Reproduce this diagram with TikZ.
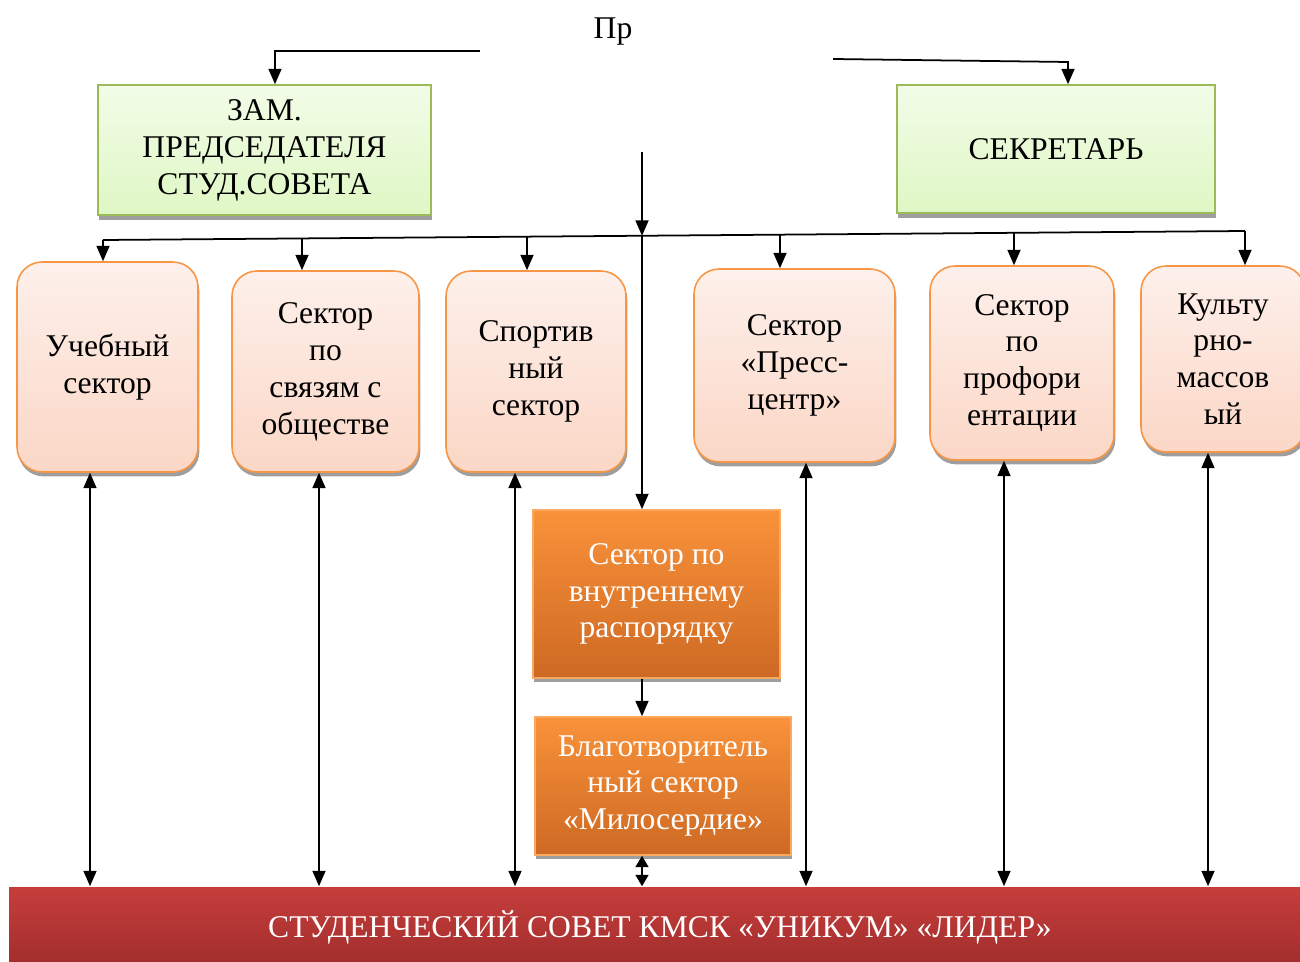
\documentclass[tikz,border=0pt]{standalone}
\usepackage{fontspec}
\setmainfont{Liberation Serif}
\usetikzlibrary{arrows.meta,calc,shadows}

\definecolor{grnTop}{HTML}{F2FCE8}
\definecolor{grnBot}{HTML}{DFF7C4}
\definecolor{grnBrd}{HTML}{9BBB59}
\definecolor{pnkTop}{HTML}{FDF0EB}
\definecolor{pnkBot}{HTML}{FBD7C6}
\definecolor{pnkBrd}{HTML}{F79646}
\definecolor{orgTop}{HTML}{FA923A}
\definecolor{orgBot}{HTML}{CD6923}
\definecolor{redTop}{HTML}{C63E3C}
\definecolor{redBot}{HTML}{A02D2C}

\begin{document}
\begin{tikzpicture}[%
    x=0.02cm, y=-0.02cm,                       % 1 unit = 1 pixel of the sketch
    >={Triangle[width=7.4pt,length=8.8pt]},    % Solid arrow heads
    line width=1pt,
    font=\fontsize{18}{21}\selectfont,
    ]
% -------------------------------------------------
% A few box styles
\tikzset{
  base/.style={align=center, inner sep=0pt, line width=0.9pt},
  mgr/.style={base, draw=grnBrd, top color=grnTop, bottom color=grnBot,
    drop shadow={shadow xshift=0.6pt, shadow yshift=-2.8pt, fill=black!38, opacity=1}},
  sect/.style={base, draw=pnkBrd, rounded corners=0.5cm, top color=pnkTop, bottom color=pnkBot,
    drop shadow={shadow xshift=0.8pt, shadow yshift=-2.5pt, fill=black!38, opacity=1}},
  inner/.style={base, draw=orgTop!80!white, top color=orgTop, bottom color=orgBot, text=white,
    drop shadow={shadow xshift=0.6pt, shadow yshift=-2.5pt, fill=black!38, opacity=1}},
  council/.style={base, draw=none, top color=redTop, bottom color=redBot, text=white},
  % -------------------------------------------------
  % Connector line styles
  norm/.style={->},
  both/.style={<->},
  shortboth/.style={{Triangle[width=7.4pt,length=6.5pt]}-{Triangle[width=7.4pt,length=6.5pt]}}
}
\useasboundingbox (0,0) rectangle (1300,962);
% -------------------------------------------------
% Place the nodes
\node (top) at (613,32) {Пр};

\node [mgr, minimum width=6.66cm, minimum height=2.6cm] (g1) at (264.5,150)
  {ЗАМ.\\ПРЕДСЕДАТЕЛЯ\\СТУД.СОВЕТА};
\node [mgr, minimum width=6.36cm, minimum height=2.56cm] (g2) at (1056,149) {СЕКРЕТАРЬ};

% Sector row
\node [sect, minimum width=3.62cm, minimum height=4.2cm]  (s1) at (107.5,367) {Учебный\\сектор};
\node [sect, minimum width=3.74cm, minimum height=4.02cm] (s2) at (325.5,371.5) {Сектор\\по\\связям с\\обществе};
\node [sect, minimum width=3.6cm,  minimum height=4.02cm] (s3) at (536,371.5) {Спортив\\ный\\сектор};
\node [sect, minimum width=4.02cm, minimum height=3.86cm] (s4) at (794.5,365.5) {Сектор\\«Пресс-\\центр»};
\node [sect, minimum width=3.68cm, minimum height=3.88cm] (s5) at (1022,363) {Сектор\\по\\профори\\ентации};
\node [sect, minimum width=3.28cm, minimum height=3.72cm] (s6) at (1223,359) {Культу\\рно-\\массов\\ый};

% Middle column
\node [inner, minimum width=4.94cm, minimum height=3.36cm] (o1) at (656.5,594)
  {Сектор по\\внутреннему\\распорядку};
\node [inner, minimum width=5.12cm, minimum height=2.76cm] (o2) at (663,786)
  {Благотворитель\\ный сектор\\«Милосердие»};

% Bottom bar
\node [council, minimum width=26.04cm, minimum height=1.6cm] (bar) at (660,927)
  {СТУДЕНЧЕСКИЙ СОВЕТ КМСК «УНИКУМ» «ЛИДЕР»};

% Invisible corner nodes
\coordinate (c1) at (480,51);
\coordinate (c2) at (833,59);
\coordinate (c3) at (1068,62);
\coordinate (c4) at (642,152);
\coordinate (d0) at (642,235.8);
\coordinate (d1) at (103,240);
\coordinate (d2) at (302,238.4);
\coordinate (d3) at (527,236.7);
\coordinate (d4) at (780,234.7);
\coordinate (d5) at (1014,232.8);
\coordinate (d6) at (1245,231);

% Top connections
\draw [->] (c1) -| ($(g1.north)+(10.5,0)$);
\draw [->] (c2) -- (c3) -- ($(g2.north)+(12,0)$);

% Bus to the sectors
\draw (d1) -- (d6);
\draw [->] (c4) -- (d0);
\foreach \i in {1,...,6}
  \draw [->] (d\i) -- (d\i |- s\i.north);

% Middle column
\draw [->] (d0) -- (d0 |- o1.north);
\draw [->] (d0 |- o1.south) -- (d0 |- o2.north);
\draw [shortboth] (d0 |- o2.south) -- (d0 |- bar.north);

% Sectors to the bottom bar
\foreach \n/\dx in {s1/-17.5, s2/-6.5, s3/-21, s4/11.5, s5/-18, s6/-15} {
  \coordinate (e\n) at ($(\n.south)+(\dx,0)$);
  \draw [<->] (e\n) -- (e\n |- bar.north);
}

\end{tikzpicture}
\end{document}
